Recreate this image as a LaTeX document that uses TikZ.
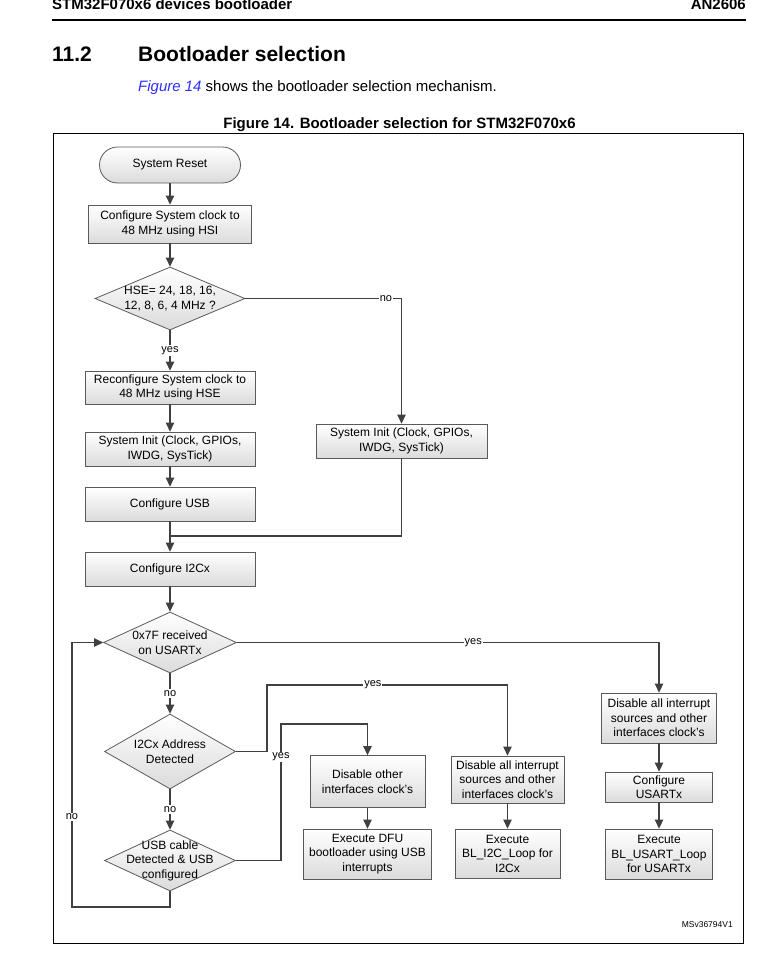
\documentclass[tikz,border=0pt]{standalone}
\usepackage{fontspec}
\setmainfont{Liberation Sans}
\usetikzlibrary{shapes.geometric,arrows.meta}
\definecolor{linegray}{HTML}{404040}
\definecolor{boxgray}{HTML}{5A5A5A}
\definecolor{linkblue}{HTML}{2E2EFF}
\begin{document}
\begin{tikzpicture}[x=1pt,y=-1pt,->,>={Triangle[width=8.5pt,length=9pt]},
	main node/.style={rectangle,draw=boxgray,line width=0.8pt,top color=white,bottom color=black!14,align=center,font=\fontsize{12}{14.5}\selectfont,inner sep=2pt},
	start node/.style={main node,rounded corners=18pt},
	dec node/.style={diamond,draw=boxgray,line width=0.8pt,top color=white,bottom color=black!14,inner sep=0pt,aspect=2},
	dec text/.style={align=center,font=\fontsize{12}{14.5}\selectfont},
	lbl/.style={fill=white,inner sep=1pt,font=\fontsize{11}{13}\selectfont},
	conn/.style={draw=linegray,line width=1.2pt}]
	\useasboundingbox (0,0) rectangle (782,974);
	% page header and title
	\node[anchor=base west,font=\fontsize{15}{18}\selectfont\bfseries,inner sep=0pt] (h1) at (52,10) {STM32F070x6 devices bootloader};
	\node[anchor=base east,font=\fontsize{15}{18}\selectfont\bfseries,inner sep=0pt] (h2) at (746,10) {AN2606};
	\draw[-,line width=1.2pt] (52,20) -- (746,20);
	\node[anchor=base west,font=\fontsize{21}{25}\selectfont\bfseries,inner sep=0pt] (t1) at (52,62) {11.2};
	\node[anchor=base west,font=\fontsize{21}{25}\selectfont\bfseries,inner sep=0pt] (t2) at (138,62) {Bootloader selection};
	\node[anchor=base west,font=\fontsize{15}{18}\selectfont,inner sep=0pt] (p1) at (138,92) {\textcolor{linkblue}{\textit{Figure 14}} shows the bootloader selection mechanism.};
	\node[anchor=base,font=\fontsize{15}{18}\selectfont\bfseries,inner sep=0pt] (cap) at (399.5,128) {Figure 14. Bootloader selection for STM32F070x6};
	\draw[-,line width=1pt] (53,133) rectangle (743,943);
	% flow nodes
	\node[start node,minimum width=141pt,minimum height=36pt] (1) at (170,165) {System Reset};
	\node[main node,minimum width=163pt,minimum height=38pt] (2) at (170,224) {Configure System clock to\\48 MHz using HSI};
	\node[dec node,minimum width=150pt,minimum height=63pt,label={[dec text]center:{HSE= 24, 18, 16,\\12, 8, 6, 4 MHz ?}}] (3) at (170,298.5) {};
	\node[main node,minimum width=170pt,minimum height=33pt] (4) at (170,387.5) {Reconfigure System clock to\\48 MHz using HSE};
	\node[main node,minimum width=170pt,minimum height=34pt] (5) at (170,449) {System Init (Clock, GPIOs,\\IWDG, SysTick)};
	\node[main node,minimum width=170pt,minimum height=34pt] (6) at (170,504) {Configure USB};
	\node[main node,minimum width=171pt,minimum height=34pt] (7) at (401.5,441) {System Init (Clock, GPIOs,\\IWDG, SysTick)};
	\node[main node,minimum width=170pt,minimum height=34pt] (8) at (170,569) {Configure I2Cx};
	\node[dec node,minimum width=133pt,minimum height=61pt,label={[dec text]center:{0x7F received\\on USARTx}}] (9) at (170,642.5) {};
	\node[dec node,minimum width=131pt,minimum height=75pt,label={[dec text]center:{I2Cx Address\\Detected}}] (10) at (170,751.5) {};
	\node[dec node,minimum width=131pt,minimum height=61pt,label={[dec text]center:{USB cable\\Detected \& USB\\configured}}] (11) at (170,860.5) {};
	\node[main node,minimum width=115pt,minimum height=52pt] (12) at (367.5,781.5) {Disable other\\interfaces clock's};
	\node[main node,minimum width=128pt,minimum height=50pt] (13) at (367.5,854) {Execute DFU\\bootloader using USB\\interrupts};
	\node[main node,minimum width=113pt,minimum height=47pt] (14) at (507.5,779.5) {Disable all interrupt\\sources and other\\interfaces clock's};
	\node[main node,minimum width=105pt,minimum height=49pt] (15) at (507.5,853.5) {Execute\\BL\_I2C\_Loop for\\I2Cx};
	\node[main node,minimum width=115pt,minimum height=50pt] (16) at (659,718) {Disable all interrupt\\sources and other\\interfaces clock's};
	\node[main node,minimum width=107pt,minimum height=30pt] (17) at (659,787) {Configure\\USARTx};
	\node[main node,minimum width=107pt,minimum height=50pt] (18) at (659,854) {Execute\\BL\_USART\_Loop\\for USARTx};
	\node[anchor=base east,font=\fontsize{8.5}{10}\selectfont,inner sep=0pt] (ref) at (733,927) {MSv36794V1};
	% bend points
	\coordinate (j1) at (170,536);
	\coordinate (c1) at (267,685);
	\coordinate (c2) at (281,724);
	\coordinate (c3) at (72,907);
	% connectors
	\draw[conn] (1) -- (2);
	\draw[conn] (2) -- (3);
	\draw[conn] (3) -- node[lbl] {yes} (4);
	\draw[conn] (4) -- (5);
	\draw[conn] (5) -- (6);
	\draw[conn] (6) -- (8);
	\draw[conn] (3) -| node[lbl,pos=0.45] {no} (7);
	\draw[conn,-] (7) |- (j1);
	\draw[conn] (8) -- (9);
	\draw[conn] (9) -| node[lbl,pos=0.28] {yes} (16);
	\draw[conn] (9) -- node[lbl] {no} (10);
	\draw[conn] (10) -| (c1) -| node[lbl,pos=0.22] {yes} (14);
	\draw[conn] (10) -- node[lbl] {no} (11);
	\draw[conn] (11) -| node[lbl,pos=0.88] {yes} (c2) -| (12);
	\draw[conn] (11) |- (c3) |- node[lbl,pos=0.17] {no} (9);
	\draw[conn] (12) -- (13);
	\draw[conn] (14) -- (15);
	\draw[conn] (16) -- (17);
	\draw[conn] (17) -- (18);
\end{tikzpicture}
\end{document}
